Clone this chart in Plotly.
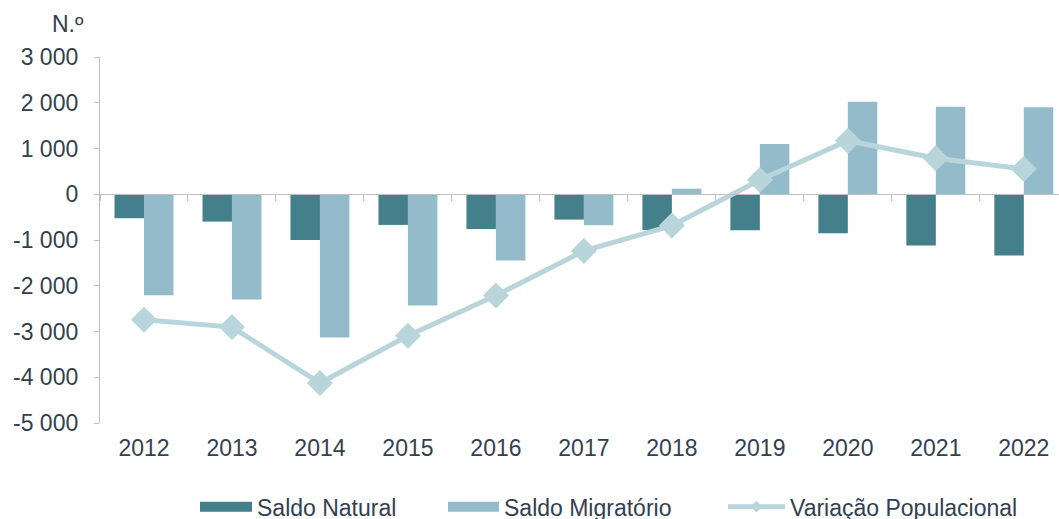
import plotly.graph_objects as go

years = ["2012", "2013", "2014", "2015", "2016", "2017", "2018", "2019", "2020", "2021", "2022"]
saldo_natural = [-524, -598, -998, -670, -758, -554, -780, -787, -852, -1122, -1340]
saldo_migratorio = [-2205, -2301, -3131, -2432, -1450, -677, 122, 1098, 2022, 1913, 1900]
variacao_populacional = [-2745, -2904, -4127, -3094, -2213, -1238, -685, 312, 1170, 786, 552]

y_tickvals = [3000, 2000, 1000, 0, -1000, -2000, -3000, -4000, -5000]
y_ticktext = ["3 000", "2 000", "1 000", "0", "-1 000", "-2 000", "-3 000", "-4 000", "-5 000"]

names = ["Saldo Natural", "Saldo Migratório", "Variação Populacional"]
c_nat = "#447F8C"
c_mig = "#94BBC9"
c_var = "#B9D5DC"
txt = "#333F50"
axc = "#BFBFBF"
font = "Liberation Sans, Arial, sans-serif"
fs = 23

fig = go.Figure()
fig.add_trace(go.Bar(x=years, y=saldo_natural, name=names[0], marker=dict(color=c_nat, line=dict(width=0)),
                     showlegend=False))
fig.add_trace(go.Bar(x=years, y=saldo_migratorio, name=names[1], marker=dict(color=c_mig, line=dict(width=0)),
                     showlegend=False))
fig.add_trace(go.Scatter(x=years, y=variacao_populacional, name=names[2], mode="lines+markers",
                         line=dict(color=c_var, width=5),
                         marker=dict(symbol="diamond", size=20, color=c_var),
                         showlegend=False))
# legend entries
fig.add_trace(go.Scatter(x=[None], y=[None], xaxis="x2", mode="lines", name=names[0],
                         line=dict(color=c_nat, width=12), legend="legend"))
fig.add_trace(go.Scatter(x=[None], y=[None], xaxis="x2", mode="lines", name=names[1],
                         line=dict(color=c_mig, width=12), legend="legend2"))
fig.add_trace(go.Scatter(x=[None], y=[None], xaxis="x2", mode="lines+markers", name=names[2],
                         line=dict(color=c_var, width=5),
                         marker=dict(symbol="diamond", size=9, color=c_var), legend="legend3"))

plot_h = 366.0
leg_y = -(507 - 423.3) / plot_h


def leg(x, w):
    return dict(orientation="h", x=x, xanchor="left", y=leg_y, yanchor="middle",
                font=dict(size=fs, color=txt, family=font), itemwidth=w,
                bgcolor="rgba(0,0,0,0)", borderwidth=0)


fig.update_layout(
    width=1059, height=519,
    margin=dict(l=100, r=0, t=57, b=96, autoexpand=False),
    paper_bgcolor="white", plot_bgcolor="white",
    font=dict(family=font, size=fs, color=txt),
    barmode="group", bargap=0.33, bargroupgap=0,
    xaxis=dict(type="category", categoryarray=years, range=[-0.5, 10.4], automargin=False,
               showline=False, ticks="", showgrid=False, zeroline=False,
               tickfont=dict(size=fs, color=txt), ticklabelstandoff=9),
    xaxis2=dict(type="category", categoryarray=years, range=[-0.5, 10.4], automargin=False,
                overlaying="x", anchor="free", position=(423.3 - 194.3) / plot_h,
                side="bottom", showline=True, linecolor=axc, linewidth=1.3,
                ticks="outside", tickson="boundaries", ticklen=6, tickcolor=axc, tickwidth=1.3,
                showticklabels=False, showgrid=False, zeroline=False),
    yaxis=dict(range=[-5000, 3000], tickvals=y_tickvals, ticktext=y_ticktext, automargin=False,
               showline=True, linecolor=axc, linewidth=1.3,
               ticks="outside", ticklen=5, tickcolor=axc, tickwidth=1.3,
               showgrid=False, zeroline=False,
               tickfont=dict(size=fs, color=txt), ticklabelstandoff=11),
    legend=leg((195 - 100) / 959, 52),
    legend2=leg((443 - 100) / 959, 51),
    legend3=leg((723 - 100) / 959, 57),
    annotations=[dict(text="N.º", xref="paper", yref="paper", x=0, y=1, xanchor="right",
                      yanchor="middle", xshift=-14, yshift=33, showarrow=False,
                      font=dict(size=fs, color=txt))],
)

fig.write_html("out.html", config={"displayModeBar": False},
               post_script="document.body.style.margin='0';document.body.style.overflow='hidden';")
